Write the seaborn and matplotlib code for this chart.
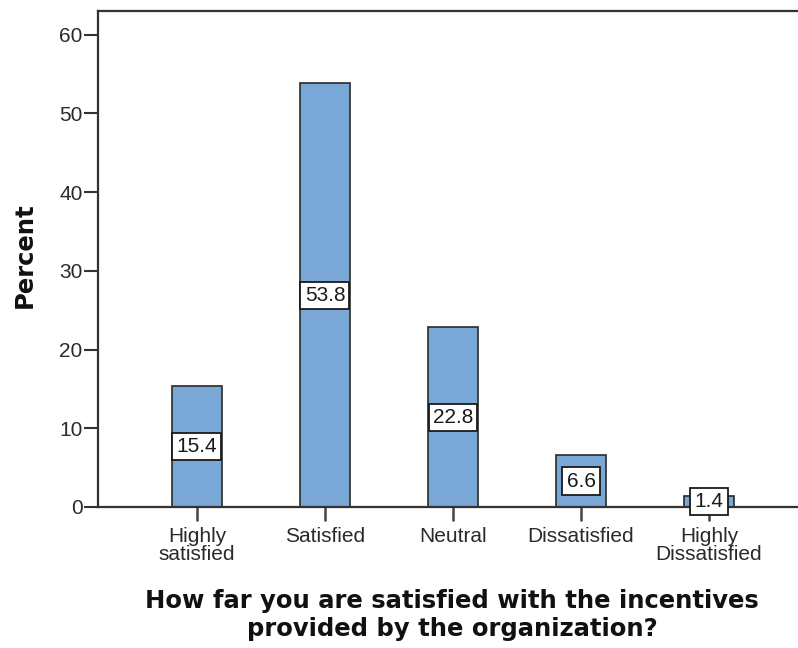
import matplotlib
matplotlib.use("Agg")
import matplotlib.pyplot as plt
import seaborn as sns
import pandas as pd

categories = ["Highly\nsatisfied", "Satisfied", "Neutral", "Dissatisfied", "Highly\nDissatisfied"]
percent = [15.4, 53.8, 22.8, 6.6, 1.4]
y_ticks = [0, 10, 20, 30, 40, 50, 60]

sns.set_theme(style="white")
plt.rcParams["font.family"] = ["Liberation Sans", "DejaVu Sans"]

df = pd.DataFrame({"category": categories, "percent": percent})

W, H = 798, 648
fig = plt.figure(figsize=(W / 100, H / 100), dpi=100)
ax_left, ax_top, ax_bottom = 98, 11, 507
ax = fig.add_axes([ax_left / W, 1 - ax_bottom / H, 1 - ax_left / W, (ax_bottom - ax_top) / H])

sns.barplot(data=df, x="category", y="percent", ax=ax, color="#79A8D6",
            saturation=1, width=0.387, edgecolor="#2a2a2a", linewidth=1.2)

ax.set_xlim(-0.773, 4.695)
ax.set_ylim(0, 63.0)
ax.set_yticks(y_ticks)
ax.set_yticklabels([str(t) for t in y_ticks])

# value labels in white boxes at the middle of each bar
for i, v in enumerate(percent):
    ax.text(i, v / 2, f"{v:.1f}", ha="center", va="center", fontsize=15, color="#1a1a1a",
            bbox=dict(boxstyle="square,pad=0.2", facecolor="white", edgecolor="#1a1a1a", linewidth=1.3))

for side in ["left", "top", "bottom"]:
    ax.spines[side].set_visible(True)
    ax.spines[side].set_color("#333333")
    ax.spines[side].set_linewidth(1.6)
ax.spines["right"].set_visible(False)

ax.tick_params(axis="y", which="major", direction="out", length=10, width=1.5, color="#333333",
               labelsize=15, labelcolor="#2a2a2a", left=True, pad=1)
ax.tick_params(axis="x", which="major", direction="out", length=10, width=1.8, color="#444444",
               labelsize=15, labelcolor="#2a2a2a", bottom=True, pad=4.5)
for lbl in ax.get_xticklabels():
    lbl.set_linespacing(0.93)

ax_w = W - ax_left
ax_h = ax_bottom - ax_top
ax.set_ylabel("Percent", fontsize=17.5, fontweight="bold", family="DejaVu Sans",
              color="#111111", va="center")
ax.yaxis.set_label_coords((25 - ax_left) / ax_w, (ax_bottom - 255) / ax_h)
ax.set_xlabel("How far you are satisfied with the incentives\nprovided by the organization?",
              fontsize=17.5, fontweight="bold", family="DejaVu Sans", color="#111111",
              linespacing=1.2, va="top")
ax.xaxis.set_label_coords((452 - ax_left) / ax_w, -(589 - ax_bottom) / ax_h)

fig.savefig("out.png", dpi=100)
